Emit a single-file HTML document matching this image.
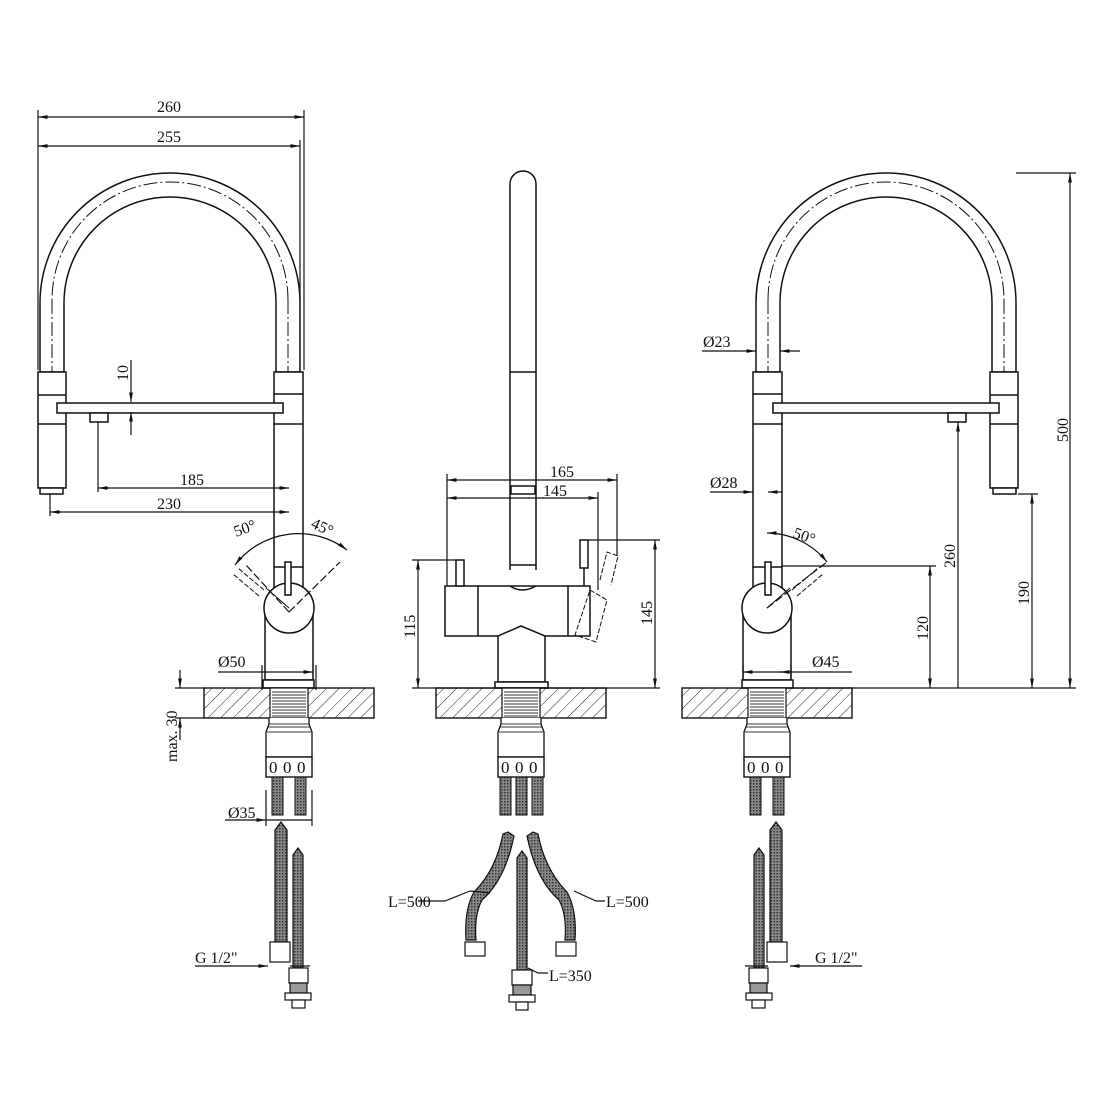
<!DOCTYPE html>
<html><head><meta charset="utf-8"><style>
html,body{margin:0;padding:0;background:#fff}
svg{display:block}
text{font-family:"Liberation Serif",serif;font-size:16px;fill:#111}
</style></head><body>
<svg width="1110" height="1110" viewBox="0 0 1110 1110" xmlns="http://www.w3.org/2000/svg">
<defs>
<pattern id="hatch" width="9" height="9" patternUnits="userSpaceOnUse" patternTransform="rotate(45)">
<line x1="0" y1="0" x2="0" y2="9" stroke="#222" stroke-width="1"/>
</pattern>
<pattern id="braid" width="3" height="3" patternUnits="userSpaceOnUse">
<rect width="3" height="3" fill="#888"/><rect width="1.5" height="1.5" fill="#333"/>
</pattern>
<marker id="a" viewBox="0 0 10 10" refX="10" refY="5" markerWidth="8" markerHeight="8" orient="auto-start-reverse"><path d="M0,3 L10,5 L0,7 z" fill="#111"/></marker>
<g id="base">
<rect x="-85" y="688" width="170" height="30" fill="url(#hatch)" stroke="#111" stroke-width="1.4"/>
<rect x="-19" y="688" width="38" height="30" fill="#fff" stroke="#111" stroke-width="1.2"/>
<path d="M-17,692H17M-17,695H17M-17,698H17M-17,701H17M-17,704H17M-17,707H17M-17,710H17M-17,713H17M-17,716H17" stroke="#333" stroke-width="1"/>
<path d="M-20,718 V724 L-23,732 V757 H23 V732 L20,724 V718" fill="#fff" stroke="#111" stroke-width="1.3"/>
<path d="M-21,724H21M-21,727H21M-22,732H22" stroke="#333"/>
<rect x="-23" y="757" width="46" height="20" fill="#fff" stroke="#111" stroke-width="1.4"/>
<text x="-20" y="773" style="font-size:17px">0</text><text x="-6" y="773" style="font-size:17px">0</text><text x="8" y="773" style="font-size:17px">0</text>
</g>
<g id="arm" fill="#fff" stroke="#111" stroke-width="1.5">
<path d="M756,372 V303 A130,130 0 0 1 1016,303 V372 H992 V303 A106,106 0 0 0 780,303 V372 Z"/>
<path d="M768,300 A118,118 0 0 1 1004,300 M768,300 V680 M1004,300 V492" fill="none" stroke-dasharray="14,3,2,3" stroke-width="1"/>
<rect x="990" y="372" width="28" height="116"/>
<line x1="990" y1="395" x2="1018" y2="395"/><line x1="990" y1="424" x2="1018" y2="424"/>
<rect x="993" y="488" width="23" height="6"/>
<rect x="753" y="372" width="29" height="228"/>
<line x1="753" y1="394" x2="782" y2="394"/><line x1="753" y1="424" x2="782" y2="424"/><line x1="753" y1="567" x2="782" y2="567"/>
<rect x="773" y="403" width="226" height="10"/>
<rect x="948" y="413" width="18" height="9"/>
<path d="M743,680 V610 A25,25 0 0 1 791,610 V680 Z"/>
<circle cx="767" cy="608" r="25"/>
<rect x="742" y="680" width="51" height="8"/>
<rect x="765" y="562" width="6" height="33"/>
<path d="M767,608 L790,588" fill="none" stroke-width="1"/>
<path d="M792,590 L818,568 M797,596 L823,574" stroke-dasharray="5,2" stroke-width="1"/>
</g>
<g id="hl" stroke="#111" stroke-width="1.2">
<path d="M275,830 L281,822 L287,830 V942 H275 Z" fill="url(#braid)"/>
<rect x="270" y="942" width="20" height="20" fill="#fff"/>
<path d="M293,855 L298,848 L303,855 V968 H293 Z" fill="url(#braid)"/>
<rect x="289" y="968" width="19" height="15" fill="#fff"/>
<rect x="290" y="983" width="17" height="10" fill="#999"/>
<rect x="285" y="993" width="26" height="7" fill="#fff"/>
<rect x="292" y="1000" width="13" height="8" fill="#fff"/>
</g>
</defs>

<use href="#arm"/>
<use href="#base" x="767"/>
<rect x="750" y="777" width="11" height="38" fill="url(#braid)" stroke="#111"/>
<rect x="773" y="777" width="11" height="38" fill="url(#braid)" stroke="#111"/>
<use href="#hl" transform="translate(1057,0) scale(-1,1)"/>

<use href="#arm" transform="translate(1056,0) scale(-1,1)"/>
<use href="#base" x="289"/>
<rect x="272" y="777" width="11" height="38" fill="url(#braid)" stroke="#111"/>
<rect x="295" y="777" width="11" height="38" fill="url(#braid)" stroke="#111"/>
<use href="#hl"/>

<g fill="#fff" stroke="#111" stroke-width="1.5">
<path d="M510,570 V184 A13,13 0 0 1 536,184 V570"/>
<line x1="510" y1="372" x2="536" y2="372"/>
<rect x="511" y="486" width="24" height="8"/>
<line x1="510" y1="565" x2="536" y2="565"/>
<rect x="445" y="586" width="145" height="50"/>
<line x1="478" y1="586" x2="478" y2="636"/><line x1="568" y1="586" x2="568" y2="636"/>
<path d="M510,586 Q522,594 536,586" fill="none"/>
<path d="M498,682 V636 L521,626 L545,636 V682 Z"/>
<rect x="495" y="682" width="53" height="6"/>
<rect x="456" y="560" width="8" height="26"/>
<rect x="580" y="540" width="8" height="28"/><line x1="584" y1="568" x2="584" y2="586"/>
<path d="M590,590 L607,600 L596,642 L575,635 Z" fill="none" stroke-dasharray="5,2" stroke-width="1"/>
<path d="M600,580 L607,552 L618,556 L611,585" fill="none" stroke-dasharray="5,2" stroke-width="1"/>
</g>
<use href="#base" x="521"/>
<rect x="500" y="777" width="11" height="38" fill="url(#braid)" stroke="#111"/>
<rect x="516" y="777" width="11" height="38" fill="url(#braid)" stroke="#111"/>
<rect x="532" y="777" width="11" height="38" fill="url(#braid)" stroke="#111"/>
<g stroke="#111" stroke-width="1.2">
<path d="M508,832 L514,836 Q505,880 482,900 Q474,915 476,940 H466 Q464,910 474,892 Q496,870 503,834 Z" fill="url(#braid)"/>
<rect x="465" y="942" width="20" height="14" fill="#fff"/>
<path d="M533,832 L527,836 Q536,880 559,900 Q567,915 565,940 H575 Q577,910 567,892 Q545,870 538,834 Z" fill="url(#braid)"/>
<rect x="556" y="942" width="20" height="14" fill="#fff"/>
<path d="M517,858 L522,851 L527,858 V970 H517 Z" fill="url(#braid)"/>
<rect x="512" y="970" width="20" height="15" fill="#fff"/>
<rect x="513" y="985" width="18" height="10" fill="#999"/>
<rect x="509" y="995" width="26" height="7" fill="#fff"/>
<rect x="516" y="1002" width="12" height="8" fill="#fff"/>
</g>

<g stroke="#111" stroke-width="1.2" fill="none">
<line x1="38" y1="110" x2="38" y2="370"/><line x1="304" y1="110" x2="304" y2="370"/><line x1="300" y1="140" x2="300" y2="300"/>
<line x1="38" y1="117" x2="304" y2="117" marker-start="url(#a)" marker-end="url(#a)"/>
<line x1="38" y1="146" x2="300" y2="146" marker-start="url(#a)" marker-end="url(#a)"/>
<line x1="98" y1="422" x2="98" y2="492"/><line x1="50" y1="494" x2="50" y2="516"/>
<line x1="98" y1="488" x2="289" y2="488" marker-start="url(#a)" marker-end="url(#a)"/>
<line x1="50" y1="512" x2="289" y2="512" marker-start="url(#a)" marker-end="url(#a)"/>
<line x1="131" y1="360" x2="131" y2="402" marker-end="url(#a)"/><line x1="131" y1="435" x2="131" y2="412" marker-end="url(#a)"/>
<path d="M235,565 A80,80 0 0 1 347,550" marker-start="url(#a)" marker-end="url(#a)"/>
<line x1="289" y1="612" x2="246" y2="565" stroke-dasharray="8,3"/><line x1="289" y1="612" x2="340" y2="562" stroke-dasharray="8,3"/>
<line x1="218" y1="672" x2="313" y2="672" marker-end="url(#a)"/>
<line x1="262" y1="665" x2="262" y2="690"/><line x1="316" y1="665" x2="316" y2="690"/>
<line x1="175" y1="688" x2="205" y2="688"/><line x1="175" y1="718" x2="205" y2="718"/>
<line x1="180" y1="670" x2="180" y2="688" marker-end="url(#a)"/><line x1="180" y1="740" x2="180" y2="718" marker-end="url(#a)"/>
<line x1="266" y1="790" x2="266" y2="826"/><line x1="312" y1="790" x2="312" y2="826"/>
<line x1="225" y1="820" x2="266" y2="820" marker-end="url(#a)"/><line x1="312" y1="820" x2="266" y2="820"/>
<line x1="195" y1="966" x2="268" y2="966" marker-end="url(#a)"/><line x1="290" y1="966" x2="310" y2="966"/>
<line x1="447" y1="474" x2="447" y2="586"/><line x1="617" y1="474" x2="617" y2="556"/><line x1="598" y1="492" x2="598" y2="590"/>
<line x1="447" y1="480" x2="617" y2="480" marker-start="url(#a)" marker-end="url(#a)"/>
<line x1="447" y1="498" x2="598" y2="498" marker-start="url(#a)" marker-end="url(#a)"/>
<line x1="412" y1="560" x2="456" y2="560"/><line x1="418" y1="560" x2="418" y2="688" marker-start="url(#a)" marker-end="url(#a)"/>
<line x1="588" y1="540" x2="660" y2="540"/><line x1="655" y1="540" x2="655" y2="688" marker-start="url(#a)" marker-end="url(#a)"/>
<line x1="412" y1="688" x2="660" y2="688"/>
<path d="M470,891 L490,893"/><path d="M418,901 H445 L470,891"/>
<path d="M574,891 L596,901 H605"/>
<path d="M528,968 L538,973 H548"/>
<line x1="1016" y1="173" x2="1076" y2="173"/>
<line x1="1070" y1="173" x2="1070" y2="688" marker-start="url(#a)" marker-end="url(#a)"/>
<line x1="958" y1="422" x2="958" y2="688" marker-start="url(#a)"/>
<line x1="1018" y1="494" x2="1038" y2="494"/>
<line x1="1032" y1="494" x2="1032" y2="688" marker-start="url(#a)" marker-end="url(#a)"/>
<line x1="782" y1="566" x2="936" y2="566"/>
<line x1="930" y1="566" x2="930" y2="688" marker-start="url(#a)" marker-end="url(#a)"/>
<line x1="793" y1="688" x2="1076" y2="688"/>
<line x1="702" y1="351" x2="756" y2="351" marker-end="url(#a)"/><line x1="800" y1="351" x2="780" y2="351" marker-end="url(#a)"/>
<line x1="710" y1="492" x2="753" y2="492" marker-end="url(#a)"/><line x1="782" y1="492" x2="768" y2="492" marker-end="url(#a)"/>
<path d="M767,533 A78,78 0 0 1 827,562" marker-start="url(#a)" marker-end="url(#a)"/>
<line x1="767" y1="608" x2="827" y2="562" stroke-dasharray="8,3"/>
<line x1="743" y1="672" x2="852" y2="672" marker-start="url(#a)"/><line x1="791" y1="672" x2="780" y2="672" marker-end="url(#a)"/>
<line x1="743" y1="665" x2="743" y2="680"/><line x1="791" y1="665" x2="791" y2="680"/>
<line x1="862" y1="966" x2="790" y2="966" marker-end="url(#a)"/><line x1="768" y1="966" x2="745" y2="966"/>
</g>

<g>
<text x="157" y="112">260</text>
<text x="157" y="142">255</text>
<text x="128" y="381" transform="rotate(-90 128 381)">10</text>
<text x="180" y="485">185</text>
<text x="157" y="509">230</text>
<text x="236" y="537" transform="rotate(-20 236 537)">50°</text>
<text x="310" y="527" transform="rotate(25 310 527)">45°</text>
<text x="218" y="667">Ø50</text>
<text x="177" y="762" transform="rotate(-90 177 762)">max. 30</text>
<text x="228" y="818">Ø35</text>
<text x="195" y="963">G 1/2"</text>
<text x="550" y="477">165</text>
<text x="543" y="496">145</text>
<text x="415" y="638" transform="rotate(-90 415 638)">115</text>
<text x="652" y="625" transform="rotate(-90 652 625)">145</text>
<text x="388" y="907">L=500</text>
<text x="606" y="907">L=500</text>
<text x="549" y="981">L=350</text>
<text x="703" y="347">Ø23</text>
<text x="710" y="488">Ø28</text>
<text x="792" y="537" transform="rotate(20 792 537)">50°</text>
<text x="812" y="667">Ø45</text>
<text x="928" y="640" transform="rotate(-90 928 640)">120</text>
<text x="955" y="568" transform="rotate(-90 955 568)">260</text>
<text x="1029" y="605" transform="rotate(-90 1029 605)">190</text>
<text x="1068" y="442" transform="rotate(-90 1068 442)">500</text>
<text x="815" y="963">G 1/2"</text>
</g>
</svg>
</body></html>
